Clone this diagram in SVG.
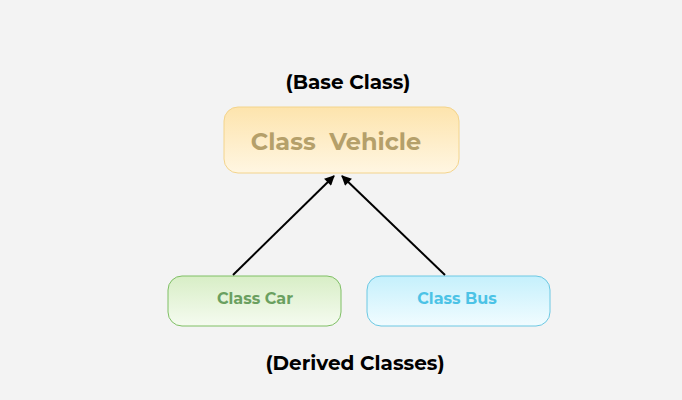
<svg xmlns="http://www.w3.org/2000/svg" width="682" height="400" viewBox="0 0 682 400">
<style>
.t{font-family:"Montserrat","Noto Sans","Liberation Sans",sans-serif;font-weight:700;text-anchor:middle}
.c{fill:none;stroke:#000;stroke-width:2}
</style>
<defs>
<linearGradient id="gy" x1="0" y1="0" x2="0" y2="1"><stop offset="0" stop-color="#fde4ad"/><stop offset="1" stop-color="#fff6e2"/></linearGradient>
<linearGradient id="gg" x1="0" y1="0" x2="0" y2="1"><stop offset="0" stop-color="#d8eec6"/><stop offset="1" stop-color="#f5fbf0"/></linearGradient>
<linearGradient id="gb" x1="0" y1="0" x2="0" y2="1"><stop offset="0" stop-color="#c5f0fc"/><stop offset="1" stop-color="#f1fcff"/></linearGradient>
<marker id="ah" viewBox="0 0 10 10" refX="9" refY="5" markerWidth="11" markerHeight="10" orient="auto" markerUnits="userSpaceOnUse"><path d="M0,0 L10,5 L0,10 z" fill="#000"/></marker>
</defs>
<rect width="682" height="400" fill="#f3f3f3"/>
<text class="t" x="348" y="89" font-size="20" fill="#000">(Base Class)</text>
<text class="t" x="355" y="370" font-size="20" fill="#000">(Derived Classes)</text>
<g id="vehicle">
<rect x="224" y="107" width="235" height="66" rx="14" fill="url(#gy)" stroke="#f3d48c" stroke-width="1"/>
<text class="t" x="336" y="150" font-size="24" fill="#b5a06a" xml:space="preserve">Class  Vehicle</text>
</g>
<g id="car">
<rect x="168" y="276" width="173" height="50" rx="14" fill="url(#gg)" stroke="#7fbf65" stroke-width="1"/>
<text class="t" x="255" y="304" font-size="16" fill="#6aa060">Class Car</text>
</g>
<g id="bus">
<rect x="367" y="276" width="183" height="50" rx="14" fill="url(#gb)" stroke="#6cc8e3" stroke-width="1"/>
<text class="t" x="457" y="304" font-size="16" fill="#4cc3e6">Class Bus</text>
</g>
<g id="connectors">
<path class="c" d="M233,275 L334,176" marker-end="url(#ah)"/>
<path class="c" d="M445,275 L342,176" marker-end="url(#ah)"/>
</g>
</svg>
